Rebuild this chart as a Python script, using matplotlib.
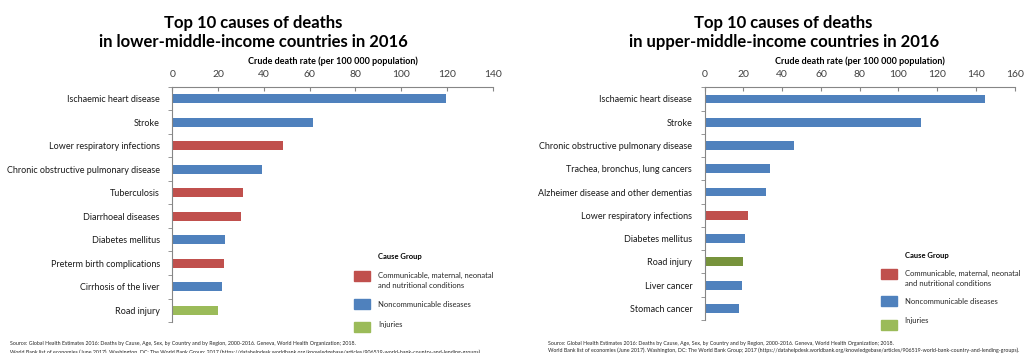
import matplotlib
matplotlib.use("Agg")
import matplotlib.pyplot as plt
from matplotlib.patches import Rectangle

plt.rcParams['font.family'] = ['Lato', 'DejaVu Sans']

# ---- data ----
lower_causes = ["Ischaemic heart disease", "Stroke", "Lower respiratory infections",
                "Chronic obstructive pulmonary disease", "Tuberculosis", "Diarrhoeal diseases",
                "Diabetes mellitus", "Preterm birth complications", "Cirrhosis of the liver",
                "Road injury"]
lower_rates = [119.5, 61.5, 48.3, 39.4, 31.0, 30.2, 23.1, 22.8, 21.8, 19.8]
lower_groups = ["ncd", "ncd", "comm", "ncd", "comm", "comm", "ncd", "comm", "ncd", "inj"]

upper_causes = ["Ischaemic heart disease", "Stroke", "Chronic obstructive pulmonary disease",
                "Trachea, bronchus, lung cancers", "Alzheimer disease and other dementias",
                "Lower respiratory infections", "Diabetes mellitus", "Road injury",
                "Liver cancer", "Stomach cancer"]
upper_rates = [144.8, 111.8, 46.1, 33.7, 31.8, 22.2, 21.0, 19.8, 19.3, 17.5]
upper_groups = ["ncd", "ncd", "ncd", "ncd", "ncd", "comm", "ncd", "inj2", "ncd", "ncd"]

group_colors = {"comm": "#C0504D", "ncd": "#4F81BD", "inj": "#9BBB59", "inj2": "#77933C"}
legend_labels = ["Communicable, maternal, neonatal\nand nutritional conditions",
                 "Noncommunicable diseases", "Injuries"]
legend_keys = ["comm", "ncd", "inj"]

source1 = ("Source: Global Health Estimates 2016: Deaths by Cause, Age, Sex, by Country and by Region, "
           "2000-2016. Geneva, World Health Organization; 2018.")
source2 = ("World Bank list of economies (June 2017). Washington, DC: The World Bank Group; 2017 "
           "(https://datahelpdesk.worldbank.org/knowledgebase/articles/906519-world-bank-country-and-lending-groups).")

W, H = 1024, 353
fig = plt.figure(figsize=(W / 100, H / 100), dpi=100)


def fx(px):
    return px / W


def fy(py):
    return 1 - py / H


def panel(rect, causes, rates, groups, xmax, title, title_x, leg):
    ax = fig.add_axes(rect)
    ypos = list(range(len(causes)))
    ax.barh(ypos, rates, height=0.38, color=[group_colors[g] for g in groups])
    ax.set_ylim(len(causes) - 0.5, -0.5)
    ax.set_xlim(0, xmax)
    ax.set_xticks(range(0, xmax + 1, 20))
    ax.xaxis.tick_top()
    ax.tick_params(axis='x', colors='#868686', labelcolor='#404040', labelsize=7.5,
                   length=3, direction='in', pad=6)
    ax.set_yticks(ypos)
    ax.set_yticklabels(causes, fontsize=6.5, color='#1a1a1a')
    ax.set_yticks([i + 0.5 for i in range(-1, len(causes))], minor=True)
    ax.tick_params(axis='y', which='major', length=0, pad=9)
    ax.tick_params(axis='y', which='minor', length=3, color='#868686', direction='out')
    for s in ['right', 'bottom']:
        ax.spines[s].set_visible(False)
    for s in ['left', 'top']:
        ax.spines[s].set_color('#868686')
        ax.spines[s].set_linewidth(0.8)
    ax.set_xlabel("Crude death rate (per 100 000 population)", fontsize=6.5,
                  fontweight='bold', labelpad=4)
    ax.xaxis.set_label_position('top')

    fig.text(fx(title_x), fy(32.5), title, ha='center', va='center', fontsize=12,
             fontweight='bold', linespacing=1.3)

    lx, ly_title, patch_x, patch_w, rows = leg
    fig.text(fx(lx), fy(ly_title), "Cause Group", fontsize=5.5, fontweight='bold',
             ha='left', va='center')
    for key, lab, (py, ty) in zip(legend_keys, legend_labels, rows):
        fig.patches.append(Rectangle((fx(patch_x), fy(py + 10)), patch_w / W, 10 / H,
                                     transform=fig.transFigure, color=group_colors[key]))
        fig.text(fx(lx), fy(ty), lab, fontsize=5.5, ha='left', va='top',
                 color='#262626', linespacing=1.45)
    return ax


panel([fx(172.3), fy(322), fx(492.7) - fx(172.3), (322 - 87) / H],
      lower_causes, lower_rates, lower_groups, 140,
      "Top 10 causes of deaths\nin lower-middle-income countries in 2016", 253,
      (378, 257, 354, 16, [(271, 272), (298.5, 301), (322, 320.5)]))

panel([fx(704.7), fy(320), fx(1014.7) - fx(704.7), (320 - 87.3) / H],
      upper_causes, upper_rates, upper_groups, 160,
      "Top 10 causes of deaths\nin upper-middle-income countries in 2016", 783.6,
      (904.7, 255.7, 881, 16, [(269, 270), (296, 298.5), (319.5, 317.5)]))

fig.text(fx(10), fy(343), source1, fontsize=3.8, ha='left', va='center', color='#262626')
fig.text(fx(10), fy(352), source2, fontsize=3.8, ha='left', va='center', color='#262626')
fig.text(fx(548), fy(343), source1, fontsize=3.8, ha='left', va='center', color='#262626')
fig.text(fx(548), fy(350.5), source2, fontsize=3.8, ha='left', va='center', color='#262626')

fig.savefig("out.png", dpi=100, facecolor='white')
